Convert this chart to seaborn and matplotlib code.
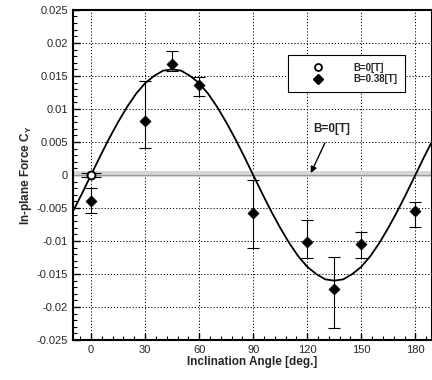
import numpy as np
import pandas as pd
import seaborn as sns
import matplotlib.pyplot as plt
from matplotlib.lines import Line2D
from matplotlib.ticker import MultipleLocator

# measured points, B = 0.38 T
angle = [0, 30, 45, 60, 90, 120, 135, 150, 180]
cy = [-0.0039, 0.0082, 0.0168, 0.0137, -0.0057, -0.0101, -0.0172, -0.0105, -0.0055]
err_lo = [0.0019, 0.0041, 0.0010, 0.0018, 0.0054, 0.0025, 0.0060, 0.0021, 0.0023]
err_hi = [0.0020, 0.0061, 0.0019, 0.0012, 0.0049, 0.0033, 0.0048, 0.0019, 0.0014]

# B = 0 T reference point
angle0 = [0]
cy0 = [0.0]
err0 = [0.0003]

# fitted curve
fit_angle = [-10, -5, 0, 5, 10, 15, 20, 25, 30, 35, 40, 45, 50, 55, 60, 65, 70,
             75, 80, 85, 90, 95, 100, 105, 110, 115, 120, 125, 130, 135, 140,
             145, 150, 155, 160, 165, 170, 175, 180, 185, 190]
fit_cy = [-0.0055, -0.0028, 0.0, 0.0028, 0.0055, 0.0080, 0.0103, 0.0123, 0.0139,
          0.0150, 0.0158, 0.0160, 0.0158, 0.0150, 0.0139, 0.0123, 0.0103, 0.0080,
          0.0055, 0.0028, 0.0, -0.0028, -0.0055, -0.0080, -0.0103, -0.0123,
          -0.0139, -0.0150, -0.0158, -0.0160, -0.0158, -0.0150, -0.0139, -0.0123,
          -0.0103, -0.0080, -0.0055, -0.0028, 0.0, 0.0028, 0.0055]

sns.set_style("ticks")
plt.rcParams['font.family'] = ['Liberation Sans', 'DejaVu Sans']
plt.rcParams['mathtext.fontset'] = 'custom'
plt.rcParams['mathtext.bf'] = 'Liberation Sans:bold'
plt.rcParams['mathtext.rm'] = 'Liberation Sans'

fig = plt.figure(figsize=(4.32, 3.8), dpi=100)
ax = fig.add_axes([0.169, 0.105, 0.83, 0.869])

# gray band for B=0 level
ax.axhspan(-0.0003, 0.0006, color='#d6d6d6', zorder=1, lw=0)
ax.axhline(0, color='#999999', lw=0.8, zorder=1)

fit_df = pd.DataFrame({'angle': fit_angle, 'cy': fit_cy})
sns.lineplot(data=fit_df, x='angle', y='cy', color='black', lw=1.3, ax=ax, zorder=3)

ax.errorbar(angle, cy, yerr=[err_lo, err_hi], fmt='none', ecolor='black',
            elinewidth=0.8, capsize=4.5, capthick=0.8, zorder=4)
ax.errorbar(angle0, cy0, yerr=err0, fmt='none', ecolor='black',
            elinewidth=0.8, capsize=7, capthick=0.8, zorder=4)

pts = pd.DataFrame({'angle': angle, 'cy': cy})
sns.scatterplot(data=pts, x='angle', y='cy', marker='D', s=32, color='black',
                edgecolor='black', ax=ax, zorder=5)
ax.scatter(angle0, cy0, marker='o', s=32, facecolor='white', edgecolor='black',
           linewidth=1.4, zorder=6)

ax.set_xlim(-10, 189)
ax.set_ylim(-0.025, 0.025)
ax.xaxis.set_major_locator(MultipleLocator(30))
ax.xaxis.set_minor_locator(MultipleLocator(6))
ax.yaxis.set_minor_locator(MultipleLocator(0.001))
ax.set_yticks(np.arange(-0.025, 0.0251, 0.005))
ax.set_yticklabels(['-0.025', '-0.02', '-0.015', '-0.01', '-0.005', '0',
                    '0.005', '0.01', '0.015', '0.02', '0.025'])
ax.tick_params(which='both', direction='in', labelsize=8, color='black',
               top=False, right=False)
ax.tick_params(which='major', length=5, width=1.0)
ax.tick_params(which='minor', length=3, width=0.8)
ax.grid(True, which='major', color='black', ls=(0, (1.2, 2.0)), lw=0.7)
for s in ax.spines.values():
    s.set_linewidth(1.5)
    s.set_color('black')

ax.set_xlabel('Inclination Angle [deg.]', fontsize=8.5, fontweight='bold', labelpad=1)
ax.set_ylabel(r'In-plane Force C$_\mathbf{Y}$', fontsize=8.5, fontweight='bold', labelpad=2)

ax.annotate('B=0[T]', xy=(122, 0.0003), xytext=(133.5, 0.0070),
            ha='center', va='center', fontsize=8.5, fontweight='bold',
            arrowprops=dict(arrowstyle='-|>', color='black', lw=1.0,
                            shrinkA=4, shrinkB=0, mutation_scale=9),
            zorder=7)

handles = [
    Line2D([], [], marker='o', ls='none', markerfacecolor='white',
           markeredgecolor='black', markeredgewidth=1.3, markersize=5),
    Line2D([], [], marker='D', ls='none', color='black', markersize=5),
]
leg = ax.legend(handles, ['B=0[T]', 'B=0.38[T]'], loc='upper left',
                bbox_to_anchor=(0.60, 0.864), fancybox=False, framealpha=1,
                edgecolor='black', prop={'size': 7, 'weight': 'bold'},
                handletextpad=1.4, borderpad=0.8, labelspacing=0.15,
                handlelength=4.5, borderaxespad=0)
leg.get_frame().set_linewidth(0.8)
leg.set_zorder(8)

fig.savefig('out.png', dpi=100)
